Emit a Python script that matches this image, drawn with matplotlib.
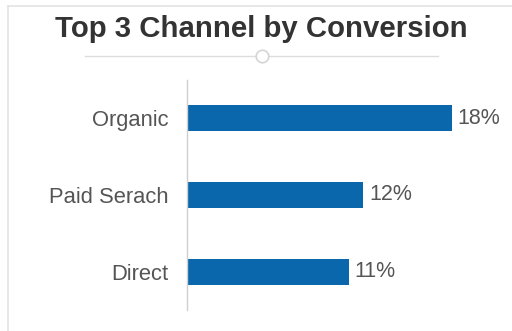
import matplotlib.pyplot as plt
from matplotlib.lines import Line2D

channels = ["Organic", "Paid Serach", "Direct"]
conversion = [18, 12, 11]
value_labels = ["18%", "12%", "11%"]

plt.rcParams['font.family'] = ['Liberation Sans', 'DejaVu Sans']

fig = plt.figure(figsize=(5.12, 3.31), dpi=100)

## panel border (top-left corner shows)
fig.add_artist(Line2D([8/512, 8/512], [0, 1 - 6/331], color="#e3e3e3", lw=1.2))
fig.add_artist(Line2D([8/512, 1], [1 - 6/331, 1 - 6/331], color="#e3e3e3", lw=1.2))

## title and the little divider with a circle
fig.text(261.5/512, 1 - 29/331, "Top 3 Channel by Conversion", ha="center", va="center",
         fontsize=21.2, fontweight="bold", color="#333333")
fig.add_artist(Line2D([85/512, 438/512], [1 - 56/331, 1 - 56/331], color="#dddddd", lw=1))
fig.add_artist(Line2D([262/512], [1 - 56/331], marker="o", markersize=9,
                      markerfacecolor="white", markeredgecolor="#d5d5d5", markeredgewidth=1.2))

ax = fig.add_axes([187/512, 21/331, 294/512, 230/331])
pos = list(range(len(channels)))
ax.barh(pos, conversion, height=0.34, color="#0b67ab")
ax.set_ylim(2.5, -0.5)
ax.set_xlim(0, 20)

for spine in ["top", "right", "bottom"]:
    ax.spines[spine].set_visible(False)
ax.spines["left"].set_color("#d0d0d0")
ax.spines["left"].set_linewidth(1)

ax.set_xticks([])
ax.set_yticks(pos)
ax.set_yticklabels(channels, fontsize=15.8, color="#555555")
ax.tick_params(axis="y", length=0, pad=13.5)

for p, v, lab in zip(pos, conversion, value_labels):
    ax.annotate(lab, (v, p), xytext=(6, 0), textcoords="offset pixels",
                va="center", ha="left", fontsize=15.5, color="#555555")

fig.savefig("out.png", dpi=100)
